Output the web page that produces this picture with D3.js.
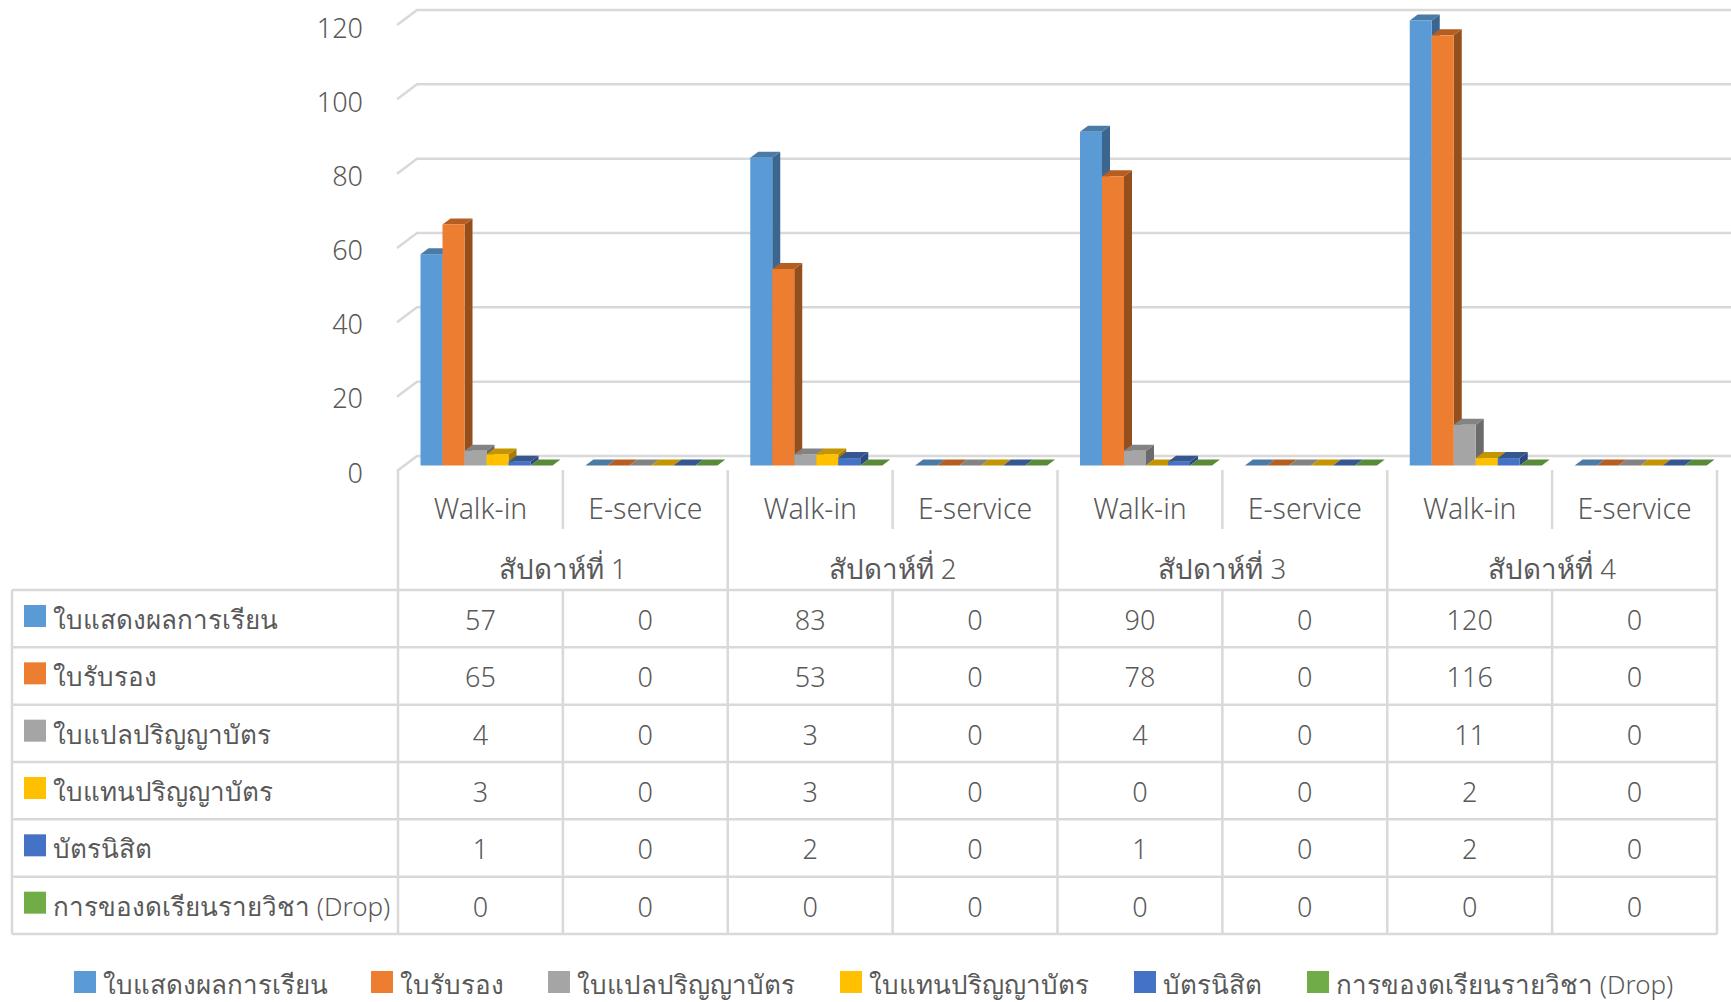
<!DOCTYPE html>
<html>
<head>
<meta charset="utf-8">
<script src="https://d3js.org/d3.v7.min.js"></script>
<style>
body { margin: 0; background: #fff; }
text { font-family: "Noto Sans", "Open Sans", sans-serif; font-weight: 300; fill: #595959; }
</style>
</head>
<body>
<svg class="chart" width="1731" height="1002"></svg>
<script>
const weeks = ["สัปดาห์ที่ 1", "สัปดาห์ที่ 2", "สัปดาห์ที่ 3", "สัปดาห์ที่ 4"];
const channels = ["Walk-in", "E-service"];
const seriesNames = ["ใบแสดงผลการเรียน", "ใบรับรอง", "ใบแปลปริญญาบัตร", "ใบแทนปริญญาบัตร", "บัตรนิสิต", "การของดเรียนรายวิชา (Drop)"];
const transcript = [57, 0, 83, 0, 90, 0, 120, 0];
const certificate = [65, 0, 53, 0, 78, 0, 116, 0];
const translated = [4, 0, 3, 0, 4, 0, 11, 0];
const replacement = [3, 0, 3, 0, 0, 0, 2, 0];
const studentCard = [1, 0, 2, 0, 1, 0, 2, 0];
const dropCourse = [0, 0, 0, 0, 0, 0, 0, 0];
const yTicks = [0, 20, 40, 60, 80, 100, 120];
const colors = ["#5b9bd5", "#ed7d31", "#a5a5a5", "#ffc000", "#4472c4", "#70ad47"];
const topColors = ["#4a7ba7", "#b55e22", "#838383", "#c49500", "#35568f", "#588a38"];
const sideColors = ["#3a6690", "#954f1c", "#6b6b6b", "#a67d00", "#2c4a80", "#497030"];
const seriesValues = [transcript, certificate, translated, replacement, studentCard, dropCourse];
const legendX = [74, 371, 548, 840, 1134, 1307];

const svg = d3.select(".chart");
const gridColor = "#d9d9d9";
const fontSize = 27, channelSize = 28.4, nameSize = 26, weekSize = 27.7;

// columns of the data table double as the category axis
const columns = d3.range(8);
const x = d3.scaleBand().domain(columns).range([398, 1717]);
const barX = d3.scaleBand().domain(d3.range(6)).range([22.5, 154.5]);
const yFront = d3.scaleLinear().domain([0, 120]).range([465.5, 20.5]);
const yBack = d3.scaleLinear().domain([0, 120]).range([456, 10]);
const rowY = d3.scaleBand().domain(d3.range(6)).range([590, 934]);

// back wall grid
const grid = svg.append("g").attr("fill", "none").attr("stroke", gridColor).attr("stroke-width", 2.5);
yTicks.forEach(t => {
  grid.append("path").attr("d", d3.line()([[397, yBack(t) + 15], [417, yBack(t)], [1731, yBack(t)]]));
});

// y axis, labels only
const yAxis = svg.append("g")
  .attr("transform", "translate(363,8)")
  .call(d3.axisLeft(yFront).tickValues(yTicks).tickSize(0).tickPadding(0));
yAxis.select(".domain").remove();
yAxis.selectAll("text").style("font-size", fontSize + "px").attr("fill", "#595959");

// 3d bars
const depthX = 8, depthY = 6;
columns.forEach(c => {
  seriesValues.forEach((vals, s) => {
    const v = vals[c];
    const x0 = x(c) + barX(s), w = barX.bandwidth();
    const y0 = yFront(v), yb = yFront(0);
    const g = svg.append("g");
    g.append("path").attr("fill", sideColors[s])
      .attr("d", d3.line()([[x0 + w, y0], [x0 + w + depthX, y0 - depthY], [x0 + w + depthX, yb - depthY], [x0 + w, yb]]) + "Z");
    g.append("path").attr("fill", topColors[s])
      .attr("d", d3.line()([[x0, y0], [x0 + depthX, y0 - depthY], [x0 + w + depthX, y0 - depthY], [x0 + w, y0]]) + "Z");
    g.append("rect").attr("x", x0).attr("y", y0).attr("width", w).attr("height", yb - y0).attr("fill", colors[s]);
  });
});

// table lines
const table = svg.append("g").attr("fill", "none").attr("stroke", gridColor).attr("stroke-width", 2.5);
rowY.domain().concat([6]).forEach(r => {
  const yy = r < 6 ? rowY(r) : rowY(5) + rowY.bandwidth();
  table.append("line").attr("x1", 12).attr("x2", 1717).attr("y1", yy).attr("y2", yy);
});
table.append("line").attr("x1", 12).attr("x2", 12).attr("y1", rowY(0)).attr("y2", 934);
columns.concat([8]).forEach(c => {
  const xx = c < 8 ? x(c) : x(7) + x.bandwidth();
  if (c % 2 === 0) {
    table.append("line").attr("x1", xx).attr("x2", xx).attr("y1", 470).attr("y2", 934);
  } else {
    table.append("line").attr("x1", xx).attr("x2", xx).attr("y1", 470).attr("y2", 529);
    table.append("line").attr("x1", xx).attr("x2", xx).attr("y1", rowY(0)).attr("y2", 934);
  }
});

// category labels
columns.forEach(c => {
  svg.append("text").attr("x", x(c) + x.bandwidth() / 2).attr("y", 519)
    .attr("text-anchor", "middle").style("font-size", channelSize + "px").text(channels[c % 2]);
});
weeks.forEach((w, i) => {
  svg.append("text").attr("x", x(i * 2) + x.bandwidth()).attr("y", 579)
    .attr("text-anchor", "middle").style("font-size", weekSize + "px").text(w);
});

// table body
seriesNames.forEach((name, s) => {
  const top = rowY(s);
  svg.append("rect").attr("x", 24).attr("y", top + 15).attr("width", 22).attr("height", 22).attr("fill", colors[s]);
  svg.append("text").attr("x", 53).attr("y", top + 39).style("font-size", nameSize + "px").text(name);
  columns.forEach(c => {
    svg.append("text").attr("x", x(c) + x.bandwidth() / 2).attr("y", top + 40)
      .attr("text-anchor", "middle").style("font-size", fontSize + "px").text(seriesValues[s][c]);
  });
});

// bottom legend
seriesNames.forEach((name, s) => {
  svg.append("rect").attr("x", legendX[s]).attr("y", 971).attr("width", 22).attr("height", 22).attr("fill", colors[s]);
  svg.append("text").attr("x", legendX[s] + 29).attr("y", 994).style("font-size", nameSize + "px").text(name);
});
</script>
</body>
</html>
